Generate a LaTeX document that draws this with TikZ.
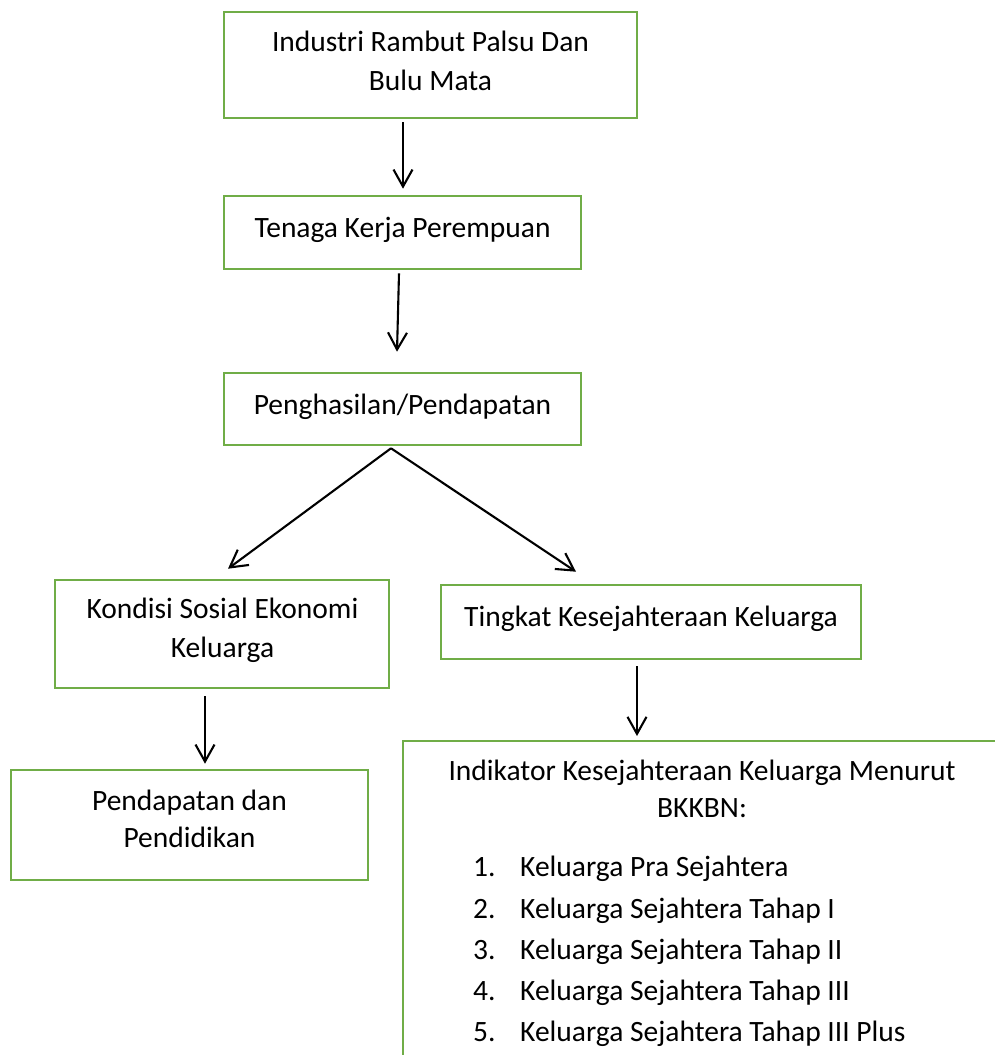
\documentclass[tikz,border=0pt]{standalone}
\usepackage{fontspec}
\setmainfont{Carlito}
\usetikzlibrary{arrows.meta}
\definecolor{boxgreen}{RGB}{112,173,71}
\tikzset{
  box/.style={draw=boxgreen, line width=2.6pt, inner sep=0pt, rectangle},
  lbl/.style={anchor=base, inner sep=0pt, font=\fontsize{29.5}{35}\selectfont},
  lblw/.style={anchor=base west, inner sep=0pt, font=\fontsize{29.5}{35}\selectfont},
  arr/.style={line width=2.1pt, -{Straight Barb[length=17pt,width=19pt,line width=2.1pt]}}
}
\begin{document}
\begin{tikzpicture}[x=1pt,y=-1pt]
\useasboundingbox (0,0) rectangle (994,1055);
% boxes
\node[box, minimum width=413pt, minimum height=106pt] (b1) at (430.5,65) {};
\node[box, minimum width=357pt, minimum height=73pt] (b2) at (402.5,232.5) {};
\node[box, minimum width=357pt, minimum height=72pt] (b3) at (402.5,409) {};
\node[box, minimum width=334pt, minimum height=108pt] (b4) at (222,634) {};
\node[box, minimum width=420pt, minimum height=74pt] (b5) at (651,622) {};
\node[box, minimum width=357pt, minimum height=110pt] (b6) at (189.5,825) {};
\coordinate (b7nw) at (403,741);
\coordinate (b7sw) at (403,1060);
\coordinate (b7ne) at (1000,741);
\draw[draw=boxgreen, line width=2.6pt] (b7sw) -- (b7nw) -- (b7ne);
% texts
\node[lbl] (t1a) at (430.5,51) {Industri Rambut Palsu Dan};
\node[lbl] (t1b) at (430.5,90) {Bulu Mata};
\node[lbl] (t2) at (402.5,237) {Tenaga Kerja Perempuan};
\node[lbl] (t3) at (402.5,414) {Penghasilan/Pendapatan};
\node[lbl] (t4a) at (222.5,618) {Kondisi Sosial Ekonomi};
\node[lbl] (t4b) at (222.5,657) {Keluarga};
\node[lbl] (t5) at (651,626) {Tingkat Kesejahteraan Keluarga};
\node[lbl] (t6a) at (189.5,810) {Pendapatan dan};
\node[lbl] (t6b) at (189.5,847) {Pendidikan};
\node[lbl] (t7a) at (702,780) {Indikator Kesejahteraan Keluarga Menurut};
\node[lbl] (t7b) at (702,817) {BKKBN:};
\node[lblw] (n1) at (473,876) {1.};
\node[lblw] (i1) at (520,876) {Keluarga Pra Sejahtera};
\node[lblw] (n2) at (473,918) {2.};
\node[lblw] (i2) at (520,918) {Keluarga Sejahtera Tahap I};
\node[lblw] (n3) at (473,959) {3.};
\node[lblw] (i3) at (520,959) {Keluarga Sejahtera Tahap II};
\node[lblw] (n4) at (473,1000) {4.};
\node[lblw] (i4) at (520,1000) {Keluarga Sejahtera Tahap III};
\node[lblw] (n5) at (473,1041) {5.};
\node[lblw] (i5) at (520,1041) {Keluarga Sejahtera Tahap III Plus};
% arrows
\draw[arr] ([xshift=-27.5pt,yshift=-3pt]b1.south) -- ([xshift=0.5pt,yshift=6pt]b2.north);
\draw[arr] ([xshift=-3.5pt,yshift=-3pt]b2.south) -- ([xshift=-5.5pt,yshift=20pt]b3.north);
\draw[arr] ([xshift=-11.5pt,yshift=-2pt]b3.south) -- ([xshift=6pt,yshift=10pt]b4.north);
\draw[arr] ([xshift=-11.5pt,yshift=-2pt]b3.south) -- ([xshift=-75pt,yshift=12pt]b5.north);
\draw[arr] ([xshift=-17pt,yshift=-7pt]b4.south) -- ([xshift=15.5pt,yshift=5pt]b6.north);
\draw[arr] ([xshift=-14pt,yshift=-6pt]b5.south) -- ([xshift=234pt,yshift=5pt]b7nw);
\end{tikzpicture}
\end{document}
